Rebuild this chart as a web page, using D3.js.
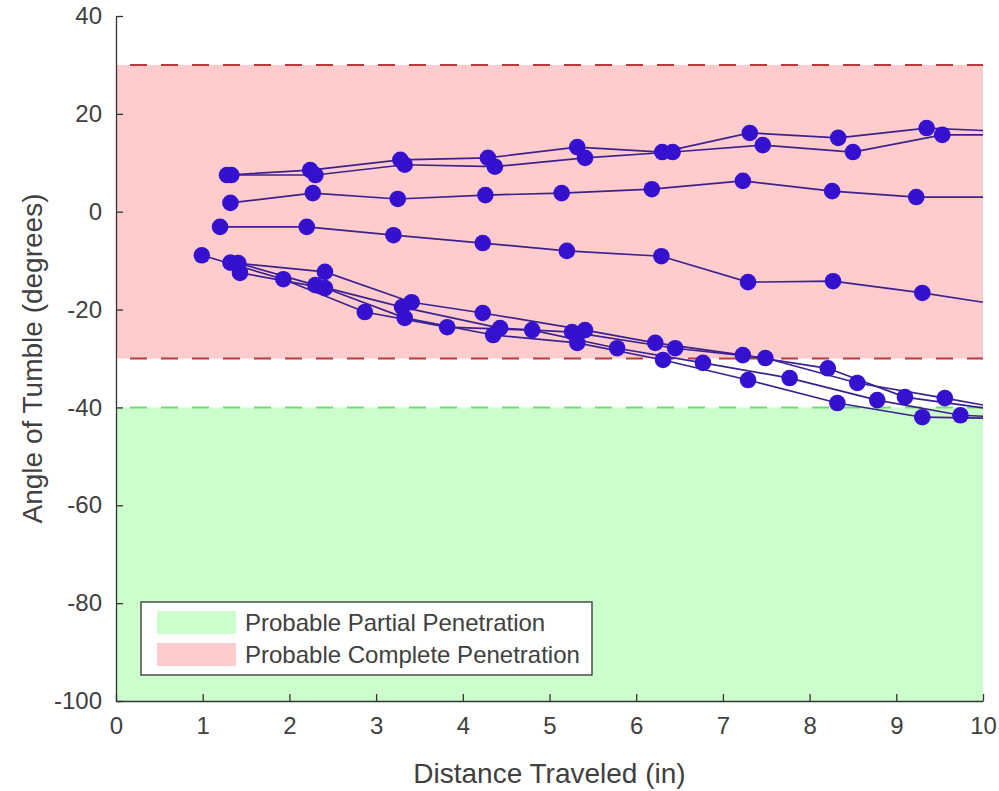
<!DOCTYPE html>
<html>
<head>
<meta charset="utf-8">
<script src="https://cdn.jsdelivr.net/npm/d3@7"></script>
<style>
  body { margin: 0; background: #fff; }
  text { font-family: "Liberation Sans", Arial, sans-serif; fill: #404040; }
</style>
</head>
<body>
<div class="chart"></div>
<script>
// tumble angle traces, one array of [distance, angle] per shot
const shotA = [[1.28, 7.5], [2.24, 8.5], [3.28, 10.6], [4.29, 11.0], [5.32, 13.2], [6.30, 12.2], [7.31, 16.1], [8.33, 15.1], [9.35, 17.1], [10, 16.6]];
const shotB = [[1.33, 7.5], [2.30, 7.5], [3.33, 9.6], [4.37, 9.2], [5.41, 11.0], [6.42, 12.2], [7.46, 13.6], [8.50, 12.2], [9.53, 15.7], [10, 15.7]];
const shotC = [[1.32, 1.8], [2.27, 3.8], [3.25, 2.6], [4.26, 3.4], [5.14, 3.8], [6.18, 4.6], [7.23, 6.3], [8.26, 4.2], [9.23, 3.0], [10, 3.0]];
const shotD = [[1.20, -3.1], [2.20, -3.1], [3.20, -4.8], [4.23, -6.4], [5.20, -8.0], [6.29, -9.1], [7.29, -14.4], [8.27, -14.2], [9.30, -16.6], [10, -18.5]];
const shotE = [[0.99, -8.9], [1.93, -13.8], [2.87, -20.5], [3.82, -23.6], [4.80, -24.2], [5.78, -27.9], [6.77, -30.9], [7.77, -34.0], [8.78, -38.5], [9.74, -41.6], [10, -41.8]];
const shotF = [[1.32, -10.4], [2.41, -12.3], [3.41, -18.5], [4.23, -20.7], [5.41, -24.2], [6.22, -26.8], [7.23, -29.3], [8.21, -32.0], [9.10, -37.9], [10, -40.1]];
const shotG = [[1.41, -10.5], [2.30, -15.0], [3.30, -19.5], [4.43, -23.8], [5.26, -24.6], [6.45, -27.9], [7.49, -29.9], [8.55, -35.0], [9.56, -38.1], [10, -39.5]];
const shotH = [[1.43, -12.5], [2.41, -15.6], [3.33, -21.7], [4.35, -25.2], [5.32, -26.8], [6.31, -30.3], [7.29, -34.4], [8.32, -39.1], [9.30, -42.0], [10, -42.2]];
const shots = [shotA, shotB, shotC, shotD, shotE, shotF, shotG, shotH];

// penetration zones
const zoneNames = ["Probable Partial Penetration", "Probable Complete Penetration"];
const zoneLow = [-100, -30];
const zoneHigh = [-40, 30];
const zoneFill = ["#ccfdcc", "#fecccc"];
const zoneEdge = ["#72dc72", "#b83a3a"];

const xTicks = [0, 1, 2, 3, 4, 5, 6, 7, 8, 9, 10];
const yTicks = [-100, -80, -60, -40, -20, 0, 20, 40];

const svgWidth = 999, svgHeight = 791;
const margin = { top: 16, right: 16, bottom: 90, left: 116 };
const width = svgWidth - margin.left - margin.right;
const height = svgHeight - margin.top - margin.bottom;

const svg = d3.select('div.chart')
    .append('svg')
    .attr('width', svgWidth)
    .attr('height', svgHeight);

const chart = svg.append('g')
    .attr('transform', 'translate(' + margin.left + ',' + margin.top + ')');

const x = d3.scaleLinear().domain([0, 10]).range([0, width]);
const y = d3.scaleLinear().domain([-100, 40]).range([height, 0]);

// shaded zones
chart.append('g')
    .selectAll('rect')
    .data(zoneNames)
    .enter()
    .append('rect')
    .attr('x', x(0))
    .attr('width', x(10) - x(0))
    .attr('y', (d, i) => y(zoneHigh[i]))
    .attr('height', (d, i) => y(zoneLow[i]) - y(zoneHigh[i]))
    .style('fill', (d, i) => zoneFill[i]);

// dashed zone limits (upper edge of partial, both edges of complete)
const limits = [
    { v: zoneHigh[0], c: zoneEdge[0] },
    { v: zoneLow[1], c: zoneEdge[1] },
    { v: zoneHigh[1], c: zoneEdge[1] }
];
chart.append('g')
    .selectAll('line')
    .data(limits)
    .enter()
    .append('line')
    .attr('x1', x(0))
    .attr('x2', x(10))
    .attr('y1', d => y(d.v))
    .attr('y2', d => y(d.v))
    .style('stroke', d => d.c)
    .style('stroke-width', 2)
    .style('stroke-dasharray', '17,14')
    .style('stroke-dashoffset', -14);

// traces
const line = d3.line()
    .x(d => x(d[0]))
    .y(d => y(d[1]));

chart.append('g')
    .selectAll('path')
    .data(shots)
    .enter()
    .append('path')
    .attr('d', line)
    .style('fill', 'none')
    .style('stroke', '#3b2290')
    .style('stroke-width', 1.7);

// markers (the trace runs on past the right edge, no marker there)
chart.append('g')
    .selectAll('circle')
    .data(shots.flat().filter(d => d[0] < 10))
    .enter()
    .append('circle')
    .attr('cx', d => x(d[0]))
    .attr('cy', d => y(d[1]))
    .attr('r', 8.3)
    .style('fill', '#3510cf');

// axes, plain hyphen for negatives like the original
const xAxis = d3.axisBottom(x).tickValues(xTicks).tickFormat(d => String(d))
    .tickSizeInner(-7).tickSizeOuter(0).tickPadding(16);
const yAxis = d3.axisLeft(y).tickValues(yTicks).tickFormat(d => String(d))
    .tickSizeInner(-7).tickSizeOuter(0).tickPadding(14);

const gx = chart.append('g')
    .attr('transform', 'translate(0,' + height + ')')
    .call(xAxis);
const gy = chart.append('g')
    .call(yAxis);

[gx, gy].forEach(g => {
    g.select('.domain').style('stroke', '#333').style('stroke-width', 1.3);
    g.selectAll('.tick line').style('stroke', '#333').style('stroke-width', 1.3);
    g.selectAll('.tick text').style('font-size', '24px').style('fill', '#404040')
        .style('font-family', '"Liberation Sans", Arial, sans-serif');
});

// axis titles
svg.append('text')
    .attr('x', margin.left + width / 2)
    .attr('y', 783)
    .attr('text-anchor', 'middle')
    .style('font-size', '28px')
    .text('Distance Traveled (in)');

svg.append('text')
    .attr('transform', 'translate(42,' + (margin.top + height / 2) + ') rotate(-90)')
    .attr('text-anchor', 'middle')
    .style('font-size', '28px')
    .text('Angle of Tumble (degrees)');

// legend
const legend = chart.append('g')
    .attr('transform', 'translate(' + (141 - margin.left) + ',' + (602 - margin.top) + ')');

legend.append('rect')
    .attr('width', 451)
    .attr('height', 73)
    .style('fill', '#fff')
    .style('stroke', '#333')
    .style('stroke-width', 1.3);

const item = legend.selectAll('g.item')
    .data(zoneNames)
    .enter()
    .append('g')
    .attr('class', 'item')
    .attr('transform', (d, i) => 'translate(16,' + (9 + i * 32) + ')');

item.append('rect')
    .attr('width', 79)
    .attr('height', 23)
    .style('fill', (d, i) => zoneFill[i]);

item.append('text')
    .attr('x', 88)
    .attr('y', 20)
    .style('font-size', '24px')
    .text(d => d);
</script>
</body>
</html>
